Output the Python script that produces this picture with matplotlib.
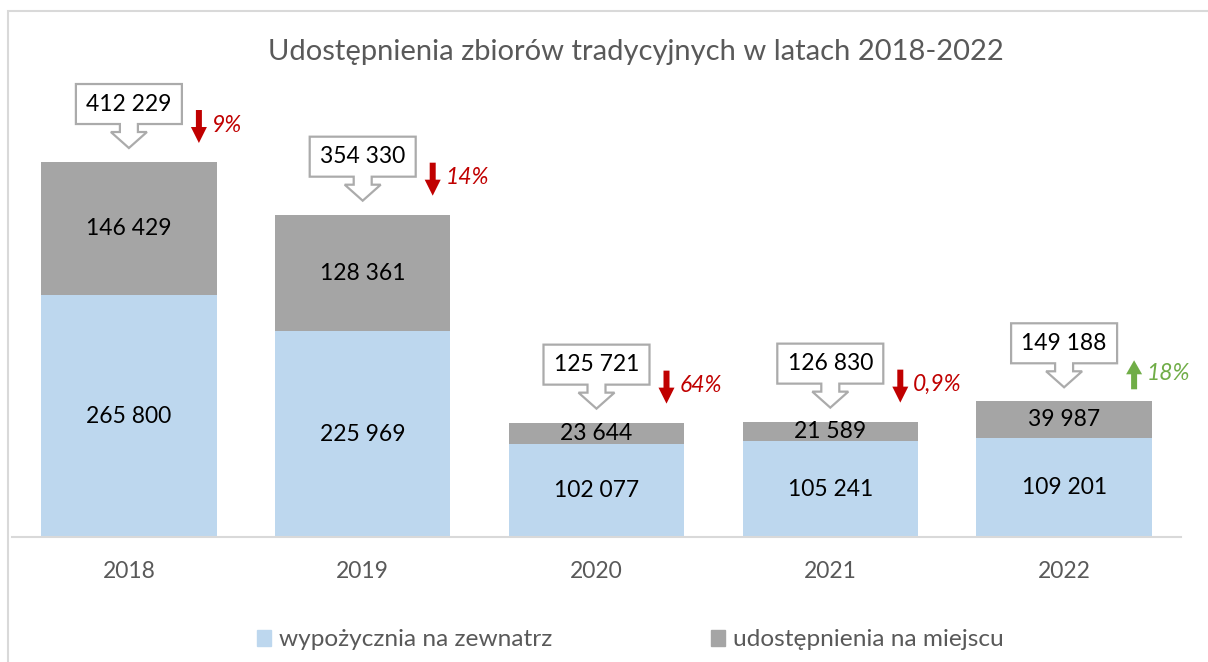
import matplotlib
matplotlib.use("Agg")
import matplotlib.pyplot as plt
from matplotlib.patches import Patch, Polygon, Rectangle
from matplotlib.transforms import ScaledTranslation

plt.rcParams['font.family'] = ['Lato', 'DejaVu Sans']

years = ["2018", "2019", "2020", "2021", "2022"]
wypozyczenia = [265800, 225969, 102077, 105241, 109201]
udostepnienia = [146429, 128361, 23644, 21589, 39987]
zmiana = ["9%", "14%", "64%", "0,9%", "18%"]
wzrost = [False, False, False, False, True]

BLUE = "#BDD7EE"
GRAY = "#A5A5A5"
TXT = "#595959"

def fmt(v):
    return f"{v:,}".replace(",", " ")

fig = plt.figure(figsize=(12.08, 6.62), dpi=100)
# chart frame (cut off on the right/bottom like in the source)
fig.patches.append(Rectangle((8 / 1208, -0.1), 1.2, (662 - 11) / 662 + 0.1, transform=fig.transFigure,
                             fill=False, edgecolor="#D9D9D9", linewidth=1.5))

ax = fig.add_axes([12 / 1208, 125 / 662, 1169 / 1208, 447 / 662])
x = range(len(years))
ax.bar(x, wypozyczenia, width=0.75, color=BLUE)
ax.bar(x, udostepnienia, width=0.75, bottom=wypozyczenia, color=GRAY)
ax.set_xlim(-0.5, 4.5)
ax.set_ylim(0, 491400)

for s in ["top", "right", "left"]:
    ax.spines[s].set_visible(False)
ax.spines["bottom"].set_color("#D9D9D9")
ax.spines["bottom"].set_linewidth(1.5)
ax.set_yticks([])
ax.set_xticks(list(x))
ax.set_xticklabels(years, fontsize=16.5, color=TXT)
ax.tick_params(axis="x", length=0, pad=17)

totals = [a + b for a, b in zip(wypozyczenia, udostepnienia)]
for i in x:
    ax.text(i, wypozyczenia[i] / 2, fmt(wypozyczenia[i]), ha="center", va="center", fontsize=16.5)
    ax.text(i, wypozyczenia[i] + udostepnienia[i] / 2, fmt(udostepnienia[i]), ha="center", va="center",
            fontsize=16.5)

    # callout with the total, offsets in pixels from the bar top
    tr = ScaledTranslation(i, totals[i], ax.transData)
    shape = [(-53, 78), (53, 78), (53, 38), (9, 38), (9, 30), (18, 30), (0, 14),
             (-18, 30), (-9, 30), (-9, 38), (-53, 38)]
    fig.patches.append(Polygon(shape, closed=True, transform=tr, facecolor="white",
                               edgecolor="#ABABAB", linewidth=1.6))
    fig.text(0, 58, fmt(totals[i]), transform=tr, ha="center", va="center", fontsize=16.5)

    # change arrow
    col = "#70AD47" if wzrost[i] else "#C00000"
    if wzrost[i]:
        arrow = [(67, 12), (73, 12), (73, 27), (78, 27), (70, 41), (62, 27), (67, 27)]
    else:
        arrow = [(67, 52), (73, 52), (73, 35), (78, 35), (70, 19), (62, 35), (67, 35)]
    fig.patches.append(Polygon(arrow, closed=True, transform=tr, facecolor=col, edgecolor="none"))
    fig.text(83, 37 if not wzrost[i] else 28, zmiana[i], transform=tr, ha="left", va="center",
             fontsize=16.5, style="italic", color=col)

fig.text(0.5265, 1 - 52 / 662, "Udostępnienia zbiorów tradycyjnych w latach 2018-2022",
         ha="center", va="center", fontsize=21, color=TXT)

handles = [Patch(color=BLUE, label="wypożycznia na zewnatrz"),
           Patch(color=GRAY, label="udostępnienia na miejscu")]
fig.legend(handles=handles, loc="center", bbox_to_anchor=(0.5215, 1 - 640 / 662), ncol=2,
           frameon=False, fontsize=17.6, handlelength=0.6, handleheight=0.6, handletextpad=0.3,
           columnspacing=6.5, labelcolor=TXT)

fig.savefig("out.png", dpi=100)
